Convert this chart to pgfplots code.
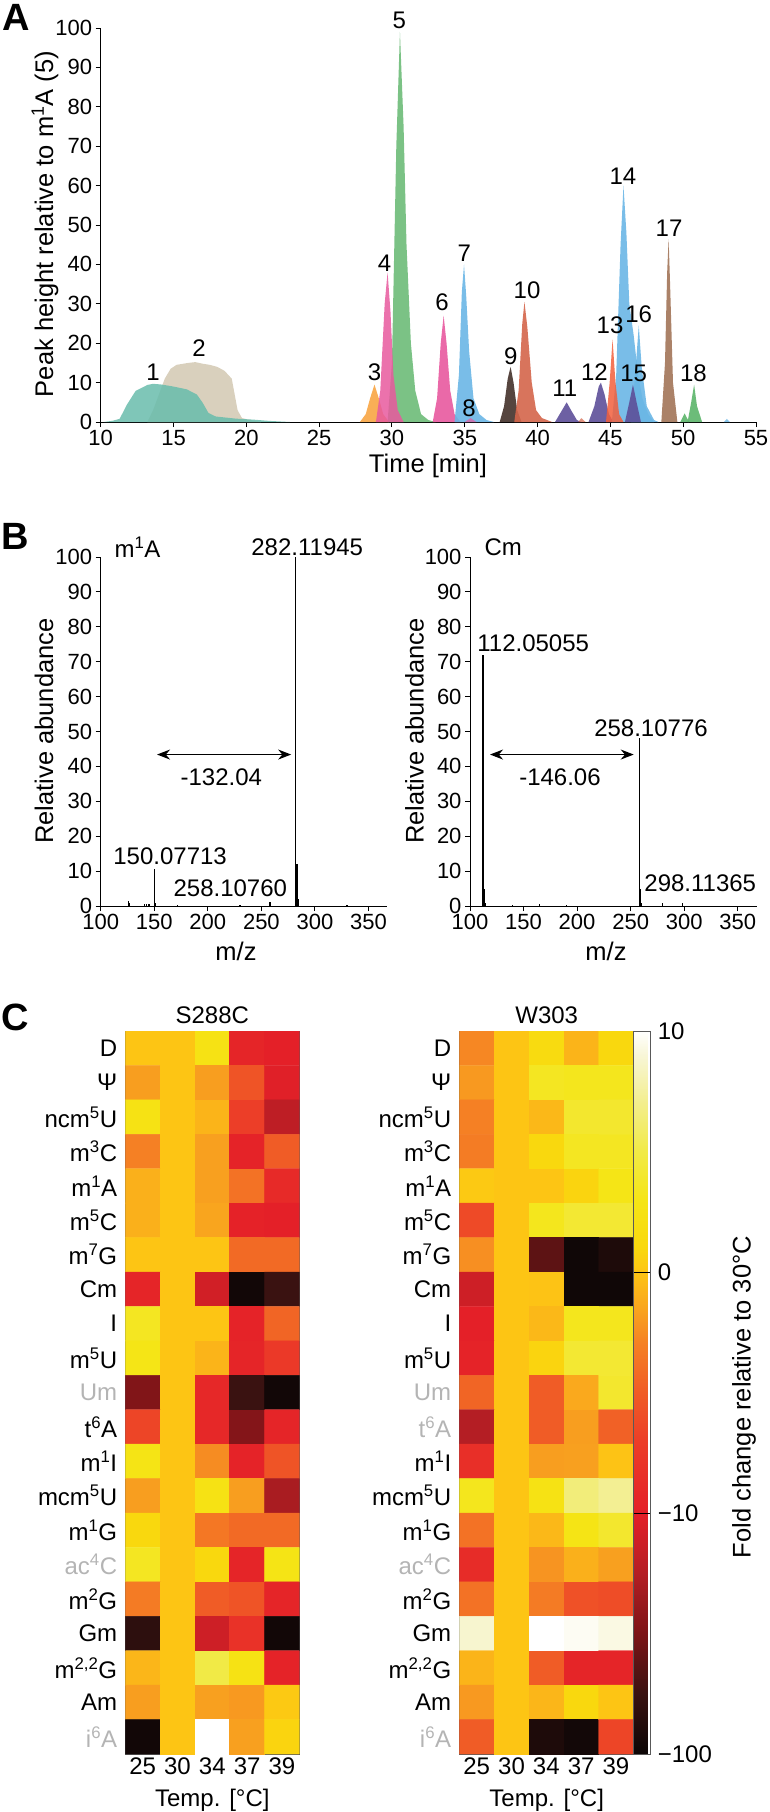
\documentclass[border=0pt]{standalone}
\usepackage{fontspec}
\setmainfont{Liberation Sans}
\usepackage{pgfplots}
\pgfplotsset{compat=1.18}
\usepackage{pgfplotstable}
\usetikzlibrary{arrows.meta}

\newcommand{\ft}{\fontsize{22}{26}\selectfont}
\newcommand{\fl}{\fontsize{24}{28}\selectfont}
\newcommand{\fa}{\fontsize{25.5}{30}\selectfont}
\definecolor{gl}{RGB}{180,180,180}
\definecolor{c1}{RGB}{104,188,172}
\definecolor{c2}{RGB}{213,203,182}
\definecolor{c3}{RGB}{248,165,68}
\definecolor{c4}{RGB}{232,89,158}
\definecolor{c5}{RGB}{109,187,120}
\definecolor{c7}{RGB}{106,182,229}
\definecolor{c9}{RGB}{77,59,53}
\definecolor{c10}{RGB}{212,101,74}
\definecolor{c11}{RGB}{93,79,153}
\definecolor{c13}{RGB}{242,95,60}
\definecolor{c17}{RGB}{166,123,96}
\definecolor{c18}{RGB}{92,181,106}

\pgfplotsset{
 common/.style={scale only axis, axis lines*=left, axis line style={black, line width=1pt},
   tick style={black, line width=1pt}, tick align=outside, major tick length=5pt,
   tick label style={font=\ft}, /pgf/number format/assume math mode=true, clip=false},
 heat/.style={scale only axis, width=174pt, height=723pt, xmin=-0.5, xmax=4.5, ymin=-0.5, ymax=20.5,
   y dir=reverse, xtick={0,...,4}, xticklabels={25,30,34,37,39}, ytick={0,...,20},
   major tick length=0pt, tick label style={font=\fl}, yticklabel style={xshift=-4.6pt},
   axis line style={draw=black!65, line width=0.8pt}, enlargelimits=false,
   colormap={hot}{rgb255(0pt)=(12,6,6) rgb255(25pt)=(58,18,17) rgb255(50pt)=(125,20,23)
     rgb255(75pt)=(180,30,36) rgb255(100pt)=(228,32,40) rgb255(130pt)=(236,62,40)
     rgb255(150pt)=(240,92,38) rgb255(170pt)=(245,128,36) rgb255(185pt)=(249,165,30)
     rgb255(200pt)=(253,197,20) rgb255(210pt)=(249,216,14) rgb255(230pt)=(245,229,22)
     rgb255(250pt)=(241,234,70) rgb255(270pt)=(243,238,140) rgb255(290pt)=(248,246,215)
     rgb255(300pt)=(255,255,255)},
   point meta min=0, point meta max=3},
}

% heat map values: position on the colour bar (0 = -100, 1 = -10, 2 = 0, 3 = 10)
\pgfplotstableread{
x y c
0 0 2.0
1 0 2.0
2 0 2.25
3 0 1.05
4 0 1.0
0 1 1.82
1 1 2.0
2 1 1.82
3 1 1.45
4 1 0.98
0 2 2.25
1 2 2.0
2 2 1.92
3 2 1.3
4 2 0.8
0 3 1.7
1 3 2.0
2 3 1.83
3 3 1.03
4 3 1.5
0 4 1.9
1 4 2.0
2 4 1.83
3 4 1.62
4 4 1.1
0 5 1.9
1 5 2.0
2 5 1.85
3 5 1.02
4 5 1.0
0 6 2.0
1 6 2.0
2 6 2.0
3 6 1.58
4 6 1.58
0 7 1.05
1 7 2.0
2 7 0.9
3 7 0.03
4 7 0.25
0 8 2.35
1 8 2.0
2 8 2.0
3 8 1.03
4 8 1.55
0 9 2.3
1 9 2.0
2 9 1.92
3 9 1.05
4 9 1.25
0 10 0.52
1 10 2.0
2 10 1.08
3 10 0.25
4 10 0.03
0 11 1.35
1 11 2.0
2 11 1.08
3 11 0.53
4 11 1.05
0 12 2.28
1 12 2.0
2 12 1.75
3 12 1.03
4 12 1.45
0 13 1.82
1 13 2.0
2 13 2.25
3 13 1.82
4 13 0.7
0 14 2.1
1 14 2.0
2 14 1.65
3 14 1.58
4 14 1.58
0 15 2.35
1 15 2.0
2 15 2.1
3 15 1.05
4 15 2.28
0 16 1.67
1 16 2.0
2 16 1.5
3 16 1.45
4 16 1.05
0 17 0.18
1 17 2.0
2 17 0.88
3 17 1.18
4 17 0.03
0 18 1.93
1 18 2.0
2 18 2.5
3 18 2.25
4 18 1.03
0 19 1.82
1 19 2.0
2 19 1.83
3 19 1.8
4 19 2.02
0 20 0.03
1 20 2.0
2 20 3.0
3 20 1.83
4 20 2.08
}\Sdata

\pgfplotstableread{
x y c
0 0 1.73
1 0 2.0
2 0 2.15
3 0 1.92
4 0 2.1
0 1 1.8
1 1 2.0
2 1 2.35
3 1 2.33
4 1 2.33
0 2 1.7
1 2 2.0
2 2 1.94
3 2 2.4
4 2 2.4
0 3 1.68
1 3 2.0
2 3 2.1
3 3 2.35
4 3 2.35
0 4 2.02
1 4 2.0
2 4 2.0
3 4 2.08
4 4 2.3
0 5 1.38
1 5 2.0
2 5 2.33
3 5 2.42
4 5 2.42
0 6 1.76
1 6 2.0
2 6 0.38
3 6 0.02
4 6 0.1
0 7 0.88
1 7 2.0
2 7 1.99
3 7 0.02
4 7 0.02
0 8 1.0
1 8 2.0
2 8 1.94
3 8 2.33
4 8 2.33
0 9 1.03
1 9 2.0
2 9 2.08
3 9 2.42
4 9 2.42
0 10 1.55
1 10 2.0
2 10 1.5
3 10 1.87
4 10 2.4
0 11 0.75
1 11 2.0
2 11 1.5
3 11 1.82
4 11 1.53
0 12 1.15
1 12 2.0
2 12 1.82
3 12 1.83
4 12 1.99
0 13 2.33
1 13 2.0
2 13 2.25
3 13 2.65
4 13 2.72
0 14 1.62
1 14 2.0
2 14 1.94
3 14 2.28
4 14 2.4
0 15 1.12
1 15 2.0
2 15 1.78
3 15 1.9
4 15 1.83
0 16 1.62
1 16 2.0
2 16 1.67
3 16 1.43
4 16 1.4
0 17 2.88
1 17 2.0
2 17 3.0
3 17 2.97
4 17 2.93
0 18 1.92
1 18 2.0
2 18 1.5
3 18 1.05
4 18 1.05
0 19 1.8
1 19 2.0
2 19 1.93
3 19 2.1
4 19 2.0
0 20 1.5
1 20 2.0
2 20 0.1
3 20 0.04
4 20 1.35
}\Wdata

\begin{document}
\begin{tikzpicture}[x=1pt,y=1pt]
\path[use as bounding box] (0,0) rectangle (770,-1812);

% ---------------- Panel A ----------------
\node[font=\fontsize{38}{40}\selectfont\bfseries] at (16,-17) {A};
\begin{axis}[common, at={(100.7pt,-422pt)}, anchor=south west, width=655.3pt, height=394pt,
  xmin=10, xmax=55, ymin=0, ymax=100, xtick={10,15,...,55}, ytick={0,10,...,100}]
\addplot[fill=c2, draw=none, fill opacity=0.9] coordinates {(13.2,0) (13.6,3) (14,7) (14.4,11) (14.8,13.5) (15.2,14.5) (16,15) (16.5,15.2) (17,14.8) (17.5,14.5) (18,14) (18.5,13) (19,11) (19.2,7) (19.4,3) (19.7,1) (20.5,0.3) (21,0)} --cycle;
\addplot[fill=c1, draw=none, fill opacity=0.85] coordinates {(10.2,0) (10.8,0.3) (11.3,0.8) (11.8,4.4) (12.4,7.9) (13.2,9.4) (13.6,9.7) (14.2,9.5) (15,9) (15.9,8.3) (16.6,7) (17,4.9) (17.4,2.3) (17.9,1.4) (19.3,0.85) (20.5,0.6) (21.5,0.3) (23,0)} --cycle;
\addplot[fill=c3, draw=none, fill opacity=0.9] coordinates {(27.8,0) (28.2,2) (28.5,6) (28.8,9.5) (29.1,6) (29.4,2) (29.8,0)} --cycle;
\addplot[fill=c5, draw=none, fill opacity=0.9] coordinates {(29.7,0) (30.0,15) (30.3,70) (30.55,99) (30.8,75) (31.0,45) (31.3,20) (31.6,8) (32,2) (32.5,0.5) (33,0)} --cycle;
\addplot[fill=c4, draw=none, fill opacity=0.85] coordinates {(28.9,0) (29.2,8) (29.5,30) (29.7,38) (29.9,28) (30.1,12) (30.4,3) (30.8,0)} --cycle;
\addplot[fill=c4, draw=none, fill opacity=0.9] coordinates {(32.8,0) (33.1,6) (33.35,20) (33.55,27) (33.75,20) (34,8) (34.3,2) (34.7,0)} --cycle;
\addplot[fill=c7, draw=none, fill opacity=0.9] coordinates {(34.3,0) (34.6,12) (34.8,33) (34.95,40) (35.1,32) (35.3,18) (35.6,6) (36,2) (36.5,0.5) (37,0)} --cycle;
\addplot[fill=c4, draw=none, fill opacity=0.7] coordinates {(35.0,0) (35.4,1) (35.8,0)} --cycle;
\addplot[fill=c9, draw=none, fill opacity=0.95] coordinates {(37.4,0) (37.7,4) (37.95,11) (38.15,14) (38.35,10) (38.6,3) (38.9,0)} --cycle;
\addplot[fill=c10, draw=none, fill opacity=0.9] coordinates {(38.4,0) (38.7,8) (38.95,25) (39.1,30.5) (39.3,24) (39.6,10) (39.9,3) (40.3,1) (41,0)} --cycle;
\addplot[fill=c11, draw=none, fill opacity=0.9] coordinates {(41.2,0) (41.6,2.5) (42,5) (42.3,3) (42.7,0.5) (43,0)} --cycle;
\addplot[fill=c10, draw=none, fill opacity=0.7] coordinates {(42.8,0) (43.0,1) (43.3,0)} --cycle;
\addplot[fill=c11, draw=none, fill opacity=0.9] coordinates {(43.5,0) (43.9,4) (44.2,9) (44.35,10) (44.6,7) (44.9,2) (45.2,0)} --cycle;
\addplot[fill=c7, draw=none, fill opacity=0.9] coordinates {(45.1,0) (45.4,12) (45.7,45) (45.9,60) (46.1,48) (46.3,30) (46.6,22) (46.9,12) (47.2,6) (47.6,2) (48,0)} --cycle;
\addplot[fill=c7, draw=none, fill opacity=0.9] coordinates {(46.4,0) (46.7,12) (46.95,24.5) (47.15,14) (47.5,4) (48,0.5) (48.3,0)} --cycle;
\addplot[fill=c13, draw=none, fill opacity=0.85] coordinates {(44.7,0) (44.95,10) (45.15,21) (45.35,10) (45.6,2) (45.9,0)} --cycle;
\addplot[fill=c11, draw=none, fill opacity=0.9] coordinates {(46.0,0) (46.3,5) (46.55,9.5) (46.8,5) (47.1,0)} --cycle;
\addplot[fill=c17, draw=none, fill opacity=0.95] coordinates {(48.5,0) (48.75,15) (48.9,38) (49,46.5) (49.1,35) (49.3,10) (49.6,0)} --cycle;
\addplot[fill=c18, draw=none, fill opacity=0.9] coordinates {(49.8,0) (50.1,2.2) (50.4,0)} --cycle;
\addplot[fill=c18, draw=none, fill opacity=0.9] coordinates {(50.3,0) (50.55,5) (50.75,9.5) (50.95,4) (51.3,0)} --cycle;
\addplot[fill=c7, draw=none, fill opacity=0.8] coordinates {(52.8,0) (53.0,0.8) (53.2,0)} --cycle;
\node[font=\fl, inner sep=0pt] at (axis cs:13.6,12.7) {1};
\node[font=\fl, inner sep=0pt] at (axis cs:16.75,18.8) {2};
\node[font=\fl, inner sep=0pt] at (axis cs:28.8,12.7) {3};
\node[font=\fl, inner sep=0pt] at (axis cs:29.5,40.3) {4};
\node[font=\fl, inner sep=0pt] at (axis cs:30.5,102) {5};
\node[font=\fl, inner sep=0pt] at (axis cs:33.44,30.5) {6};
\node[font=\fl, inner sep=0pt] at (axis cs:34.96,42.8) {7};
\node[font=\fl, inner sep=0pt] at (axis cs:35.3,3.5) {8};
\node[font=\fl, inner sep=0pt] at (axis cs:38.17,16.8) {9};
\node[font=\fl, inner sep=0pt] at (axis cs:39.28,33.5) {10};
\node[font=\fl, inner sep=0pt] at (axis cs:41.87,8.6) {11};
\node[font=\fl, inner sep=0pt] at (axis cs:43.9,12.7) {12};
\node[font=\fl, inner sep=0pt] at (axis cs:44.98,24.6) {13};
\node[font=\fl, inner sep=0pt] at (axis cs:45.86,62.3) {14};
\node[font=\fl, inner sep=0pt] at (axis cs:46.6,12.4) {15};
\node[font=\fl, inner sep=0pt] at (axis cs:46.94,27.4) {16};
\node[font=\fl, inner sep=0pt] at (axis cs:49.03,49.3) {17};
\node[font=\fl, inner sep=0pt] at (axis cs:50.7,12.4) {18};
\end{axis}
\node[font=\fa, rotate=90] at (45,-224) {Peak height relative to m\textsuperscript{1}A (5)};
\node[font=\fa] at (428,-466) {Time [min]};

% ---------------- Panel B ----------------
\node[font=\fontsize{38}{40}\selectfont\bfseries] at (15,-536) {B};
\begin{axis}[common, at={(100.7pt,-906pt)}, anchor=south west, width=286pt, height=349pt,
  xmin=100, xmax=367, ymin=0, ymax=100, xtick={100,150,...,350}, ytick={0,10,...,100}]
\addplot[ycomb, black, line width=1.3pt] coordinates {(282.12,100) (283.12,12) (284.1,2) (150.08,10.5) (151.08,1) (126,1.5) (127,0.8) (141,0.7) (143,0.5) (145,0.6) (258.11,1.2) (172,0.3) (230,0.3) (330,0.2)};
\draw[{Stealth[length=13pt,width=10pt]}-{Stealth[length=13pt,width=10pt]}, line width=1.2pt] (axis cs:152.6,43.4) -- (axis cs:277.8,43.4);
\node[font=\fl, inner sep=0pt] at (axis cs:212.6,37) {-132.04};
\node[font=\fl, inner sep=0pt] at (axis cs:292.8,102.9) {282.11945};
\node[font=\fl, inner sep=0pt] at (axis cs:134.4,102.9) {m\textsuperscript{1}A};
\node[font=\fl, inner sep=0pt] at (axis cs:164.8,14.3) {150.07713};
\node[font=\fl, inner sep=0pt] at (axis cs:221,5) {258.10760};
\end{axis}
\node[font=\fa, rotate=90] at (44,-731) {Relative abundance};
\node[font=\fa] at (236,-951) {m/z};

\begin{axis}[common, at={(470pt,-906pt)}, anchor=south west, width=287pt, height=349pt,
  xmin=100, xmax=368, ymin=0, ymax=100, xtick={100,150,...,350}, ytick={0,10,...,100}]
\addplot[ycomb, black, line width=1.3pt] coordinates {(112.05,72) (113.05,5) (114,1) (258.11,48) (259.11,5) (260,1) (298.11,0.8) (165,0.6) (140,0.3) (280,0.8) (190,0.3)};
\draw[{Stealth[length=13pt,width=10pt]}-{Stealth[length=13pt,width=10pt]}, line width=1.2pt] (axis cs:118.7,43.4) -- (axis cs:252.9,43.4);
\node[font=\fl, inner sep=0pt] at (axis cs:184,37) {-146.06};
\node[font=\fl, inner sep=0pt] at (axis cs:159,75.4) {112.05055};
\node[font=\fl, inner sep=0pt] at (axis cs:269,51) {258.10776};
\node[font=\fl, inner sep=0pt] at (axis cs:131,102.9) {Cm};
\node[font=\fl, inner sep=0pt] at (axis cs:315,6.5) {298.11365};
\end{axis}
\node[font=\fa, rotate=90] at (414.5,-731) {Relative abundance};
\node[font=\fa] at (606,-951) {m/z};

% ---------------- Panel C ----------------
\node[font=\fontsize{38}{40}\selectfont\bfseries] at (15,-1017) {C};
\begin{axis}[heat, at={(125.3pt,-1754pt)}, anchor=south west,
  yticklabels={D,Ψ,ncm\textsuperscript{5}U,m\textsuperscript{3}C,m\textsuperscript{1}A,m\textsuperscript{5}C,m\textsuperscript{7}G,Cm,I,m\textsuperscript{5}U,{\color{gl}Um},t\textsuperscript{6}A,m\textsuperscript{1}I,mcm\textsuperscript{5}U,m\textsuperscript{1}G,{\color{gl}ac\textsuperscript{4}C},m\textsuperscript{2}G,Gm,m\textsuperscript{2,2}G,Am,{\color{gl}i\textsuperscript{6}A}}]
\addplot[matrix plot*, mesh/cols=5, point meta=explicit] table[x=x, y=y, meta=c] {\Sdata};
\end{axis}
\node[font=\fl] at (212.3,-1015) {S288C};
\node[font=\fl] at (212.3,-1800) {Temp. [°C]};

\begin{axis}[heat, at={(459.3pt,-1754pt)}, anchor=south west,
  yticklabels={D,Ψ,ncm\textsuperscript{5}U,m\textsuperscript{3}C,m\textsuperscript{1}A,m\textsuperscript{5}C,m\textsuperscript{7}G,Cm,I,m\textsuperscript{5}U,{\color{gl}Um},{\color{gl}t\textsuperscript{6}A},m\textsuperscript{1}I,mcm\textsuperscript{5}U,m\textsuperscript{1}G,{\color{gl}ac\textsuperscript{4}C},m\textsuperscript{2}G,Gm,m\textsuperscript{2,2}G,Am,{\color{gl}i\textsuperscript{6}A}},
  colorbar, colorbar style={at={(1,1)}, anchor=north west, xshift=14.7pt, width=17pt,
    y dir=normal, ytick={0,1,2,3}, yticklabels={−100,−10,0,10}, major tick length=17pt,
    tick align=inside, ytick pos=right, tick style={black, line width=1pt},
    yticklabel style={font=\fl, xshift=4pt},
    axis line style={draw=black!65, line width=0.8pt}}]
\addplot[matrix plot*, mesh/cols=5, point meta=explicit] table[x=x, y=y, meta=c] {\Wdata};
\end{axis}
\node[font=\fl] at (546.7,-1015) {W303};
\node[font=\fl] at (546.7,-1800) {Temp. [°C]};
\node[font=\fa, rotate=90] at (744,-1397) {Fold change relative to 30°C};
\end{tikzpicture}
\end{document}
